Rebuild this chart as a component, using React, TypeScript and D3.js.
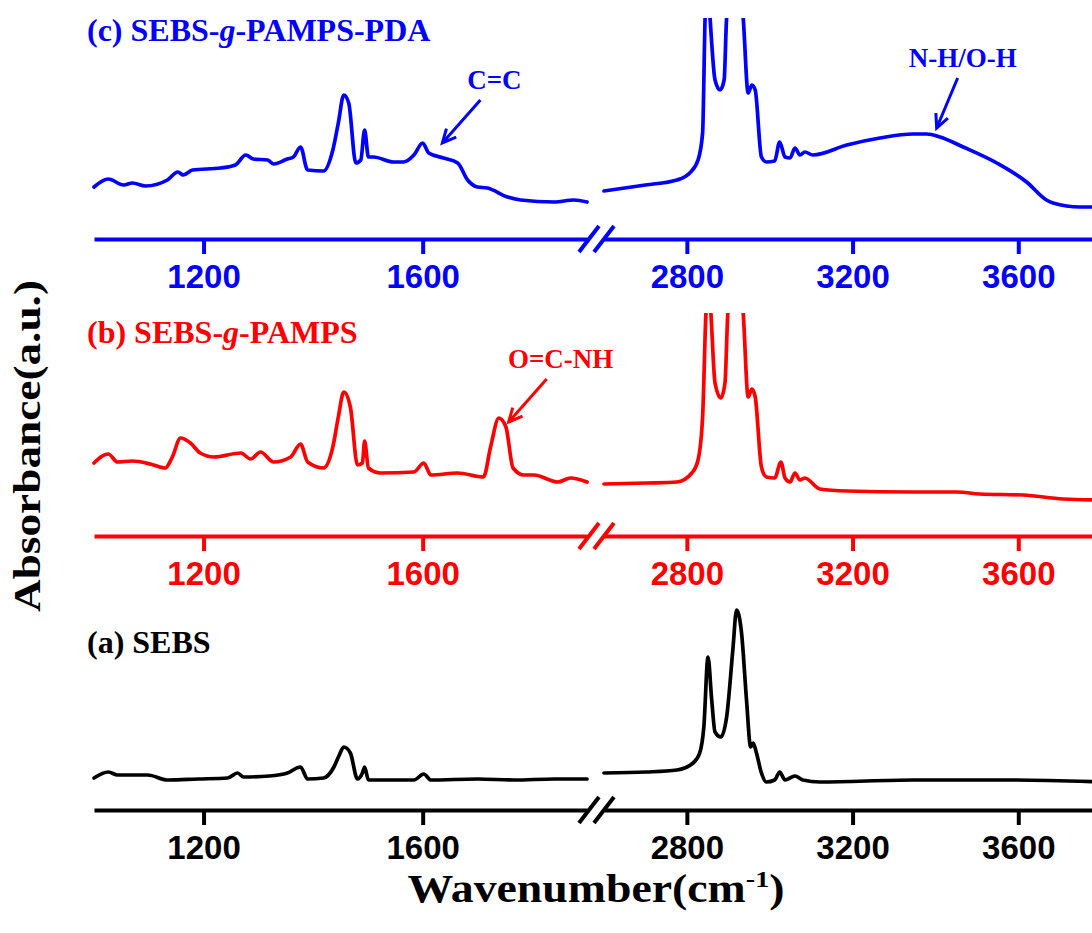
import React, { Component } from 'react';
import * as d3 from "d3";

// tick labels of the two broken x segments
const lowTicks = [1200, 1600];
const highTicks = [2800, 3200, 3600];

// (a) SEBS, absorbance in a.u. above its own baseline
const sebsWnLow = [1000, 1026, 1043, 1098, 1134, 1190, 1244, 1262, 1273, 1320, 1353, 1377, 1390, 1419, 1438, 1447, 1456, 1468, 1481, 1490, 1494, 1501, 1584, 1602, 1615, 1700, 1767, 1840, 1900];
const sebsAbsLow = [0.32, 0.38, 0.35, 0.35, 0.30, 0.31, 0.32, 0.37, 0.33, 0.34, 0.37, 0.43, 0.31, 0.32, 0.43, 0.54, 0.63, 0.57, 0.31, 0.37, 0.43, 0.30, 0.30, 0.36, 0.30, 0.31, 0.30, 0.31, 0.31];
const sebsWnHigh = [2600, 2703, 2776, 2815, 2831, 2841, 2851, 2860, 2868, 2882, 2896, 2911, 2920, 2932, 2944, 2954, 2960, 2968, 2980, 2992, 3012, 3024, 3037, 3049, 3061, 3080, 3121, 3346, 3588, 3800];
const sebsAbsHigh = [0.37, 0.38, 0.40, 0.47, 0.57, 0.83, 1.53, 1.10, 0.78, 0.73, 0.93, 1.60, 2.00, 1.77, 1.10, 0.63, 0.67, 0.57, 0.37, 0.28, 0.30, 0.38, 0.30, 0.32, 0.34, 0.30, 0.28, 0.30, 0.30, 0.28];

// (b) SEBS-g-PAMPS
const pampsWnLow = [1000, 1026, 1043, 1070, 1103, 1130, 1143, 1158, 1176, 1194, 1219, 1268, 1286, 1304, 1328, 1359, 1377, 1390, 1419, 1436, 1446, 1456, 1468, 1481, 1490, 1494, 1501, 1523, 1584, 1602, 1615, 1664, 1711, 1724, 1739, 1752, 1765, 1785, 1803, 1847, 1870, 1900];
const pampsAbsLow = [0.73, 0.82, 0.74, 0.75, 0.72, 0.68, 0.79, 0.98, 0.93, 0.83, 0.79, 0.83, 0.77, 0.84, 0.74, 0.79, 0.92, 0.74, 0.68, 0.89, 1.19, 1.44, 1.29, 0.71, 0.73, 0.95, 0.68, 0.63, 0.64, 0.73, 0.61, 0.63, 0.59, 0.89, 1.18, 1.09, 0.68, 0.61, 0.61, 0.54, 0.58, 0.54];
const pampsWnHigh = [2600, 2703, 2776, 2812, 2827, 2838, 2846, 2852, 2858, 2868, 2882, 2892, 2899, 2920, 2936, 2948, 2957, 2965, 2980, 2992, 3012, 3027, 3037, 3049, 3061, 3073, 3085, 3121, 3186, 3346, 3451, 3507, 3612, 3708, 3800];
const pampsAbsHigh = [0.52, 0.53, 0.54, 0.63, 0.76, 1.19, 2.23, 2.60, 2.23, 1.53, 1.38, 1.53, 2.23, 2.80, 2.23, 1.39, 1.47, 1.39, 0.69, 0.59, 0.58, 0.74, 0.58, 0.54, 0.63, 0.56, 0.58, 0.47, 0.45, 0.44, 0.44, 0.42, 0.41, 0.37, 0.36];

// (c) SEBS-g-PAMPS-PDA
const pdaWnLow = [1000, 1026, 1054, 1070, 1094, 1134, 1153, 1163, 1180, 1231, 1258, 1277, 1291, 1317, 1328, 1353, 1364, 1377, 1390, 1419, 1436, 1446, 1456, 1465, 1478, 1487, 1494, 1501, 1510, 1547, 1565, 1584, 1600, 1611, 1638, 1664, 1682, 1700, 1718, 1755, 1779, 1840, 1876, 1900];
const pdaAbsLow = [0.52, 0.60, 0.54, 0.56, 0.53, 0.59, 0.67, 0.64, 0.69, 0.71, 0.74, 0.84, 0.80, 0.79, 0.75, 0.80, 0.82, 0.92, 0.69, 0.68, 0.89, 1.16, 1.44, 1.36, 0.76, 0.79, 1.09, 0.82, 0.82, 0.77, 0.77, 0.84, 0.96, 0.86, 0.81, 0.76, 0.59, 0.52, 0.51, 0.42, 0.39, 0.37, 0.39, 0.37];
const pdaWnHigh = [2600, 2700, 2776, 2807, 2827, 2838, 2844, 2850, 2856, 2868, 2880, 2890, 2896, 2920, 2936, 2948, 2957, 2965, 2980, 2992, 3012, 3024, 3037, 3049, 3061, 3073, 3085, 3104, 3186, 3266, 3346, 3379, 3411, 3467, 3548, 3620, 3668, 3684, 3749, 3800];
const pdaAbsHigh = [0.48, 0.54, 0.59, 0.66, 0.79, 1.06, 2.21, 2.60, 2.21, 1.59, 1.49, 1.59, 2.21, 2.80, 2.21, 1.46, 1.54, 1.49, 0.82, 0.77, 0.78, 0.97, 0.82, 0.81, 0.91, 0.84, 0.87, 0.84, 0.94, 1.01, 1.05, 1.05, 1.02, 0.92, 0.76, 0.57, 0.39, 0.36, 0.32, 0.32];

// peak assignments: label, wavenumber and absorbance of the arrow tip, panel
const noteText = ["C=C", "O=C-NH", "N-H/O-H"];
const noteWn = [1636, 1757, 3403];
const noteAbs = [0.96, 1.14, 1.11];
const notePanel = [2, 1, 2];

const serif = "'Times New Roman', 'Liberation Serif', serif";
const sans = "Arial, 'Liberation Sans', sans-serif";

export default class App extends Component {

    chartRef = React.createRef<SVGSVGElement>();

    componentDidMount(){
        let svg = d3.select(this.chartRef.current);
        svg.selectAll("*").remove();

        let xLow = d3.scaleLinear().domain([1000, 1900]).range([94, 587]);
        let xHigh = d3.scaleLinear().domain([2600, 4000]).range([604, 1184]);

        // bottom to top: (a), (b), (c)
        let panels = [
            { name: "(a) SEBS", g: false, color: "#000000", axisY: 810, top: 560, labelY: 653,
              low: [sebsWnLow, sebsAbsLow], high: [sebsWnHigh, sebsAbsHigh] },
            { name: "(b) SEBS-", g: true, rest: "-PAMPS", color: "#ff0000", axisY: 536, top: 313, labelY: 343,
              low: [pampsWnLow, pampsAbsLow], high: [pampsWnHigh, pampsAbsHigh] },
            { name: "(c) SEBS-", g: true, rest: "-PAMPS-PDA", color: "#0000ff", axisY: 239, top: 18, labelY: 41,
              low: [pdaWnLow, pdaAbsLow], high: [pdaWnHigh, pdaAbsHigh] }
        ];

        let yScales = panels.map(p => d3.scaleLinear().domain([0, 1]).range([p.axisY, p.axisY - 100]));

        panels.forEach((p, i) => {
            let y = yScales[i];
            let g = svg.append("g");

            g.append("clipPath").attr("id", "clip" + i)
              .append("rect")
              .attr("x", 0).attr("y", p.top)
              .attr("width", 1092).attr("height", p.axisY - p.top);

            let segments = [[xLow, p.low], [xHigh, p.high]];
            segments.forEach(([x, d]: any) => {
                let pts = d[0].map((w, k) => [w, d[1][k]]);
                let line = d3.line()
                    .x(v => x(v[0]))
                    .y(v => y(v[1]))
                    .curve(d3.curveMonotoneX);
                g.append("path")
                  .attr("clip-path", "url(#clip" + i + ")")
                  .attr("d", line(pts))
                  .attr("fill", "none")
                  .attr("stroke", p.color)
                  .attr("stroke-width", 3.7)
                  .attr("stroke-linejoin", "round")
                  .attr("stroke-linecap", "round");
            });

            // two axis segments
            [[xLow, lowTicks], [xHigh, highTicks]].forEach(([x, ticks]: any) => {
                let ax = g.append("g")
                    .attr("transform", `translate(0,${p.axisY})`)
                    .attr("color", p.color)
                    .call(d3.axisBottom(x).tickValues(ticks).tickSize(15).tickSizeOuter(0).tickPadding(11).tickFormat(d3.format("d")));
                ax.select(".domain").attr("stroke-width", 4);
                ax.selectAll(".tick line").attr("stroke-width", 4);
                ax.selectAll(".tick text")
                  .attr("font-family", sans)
                  .attr("font-weight", "bold")
                  .attr("font-size", 33)
                  .attr("fill", p.color);
            });

            // axis break marks
            [589, 604].forEach(cx => {
                g.append("line")
                  .attr("x1", cx - 10).attr("y1", p.axisY + 13)
                  .attr("x2", cx + 10).attr("y2", p.axisY - 13)
                  .attr("stroke", p.color)
                  .attr("stroke-width", 4);
            });

            // series label
            let t = g.append("text")
                .attr("x", 87).attr("y", p.labelY)
                .attr("font-family", serif)
                .attr("font-weight", "bold")
                .attr("font-size", 32)
                .attr("fill", p.color);
            t.append("tspan").text(p.name);
            if (p.g) {
                t.append("tspan").attr("font-style", "italic").text("g");
                t.append("tspan").text(p.rest);
            }
        });

        // peak annotations with arrows
        noteText.forEach((txt, i) => {
            let p = panels[notePanel[i]];
            let x = noteWn[i] < 2000 ? xLow : xHigh;
            let tx = x(noteWn[i]);
            let ty = yScales[notePanel[i]](noteAbs[i]);
            let dx = noteWn[i] < 2000 ? 38 : 21;
            let sx = tx + dx, sy = ty - (noteWn[i] < 2000 ? 43 : 50);
            let ang = Math.atan2(ty - sy, tx - sx);
            let head = 15, spread = 0.45;
            svg.append("line")
              .attr("x1", sx).attr("y1", sy).attr("x2", tx).attr("y2", ty)
              .attr("stroke", p.color).attr("stroke-width", 3);
            svg.append("path")
              .attr("d", `M${tx - head * Math.cos(ang - spread)},${ty - head * Math.sin(ang - spread)}L${tx},${ty}L${tx - head * Math.cos(ang + spread)},${ty - head * Math.sin(ang + spread)}`)
              .attr("fill", "none")
              .attr("stroke", p.color).attr("stroke-width", 3)
              .attr("stroke-linejoin", "miter");
            svg.append("text")
              .attr("x", sx + (noteWn[i] < 2000 ? 14 : 5))
              .attr("y", sy - 11)
              .attr("text-anchor", "middle")
              .attr("font-family", serif)
              .attr("font-weight", "bold")
              .attr("font-size", 27)
              .attr("fill", p.color)
              .text(txt);
        });

        // axis titles
        svg.append("text")
          .attr("transform", "translate(40,446) rotate(-90)")
          .attr("text-anchor", "middle")
          .attr("font-family", serif)
          .attr("font-weight", "bold")
          .attr("font-size", 37)
          .attr("textLength", 332)
          .attr("lengthAdjust", "spacingAndGlyphs")
          .text("Absorbance(a.u.)");

        let xt = svg.append("text")
            .attr("x", 596).attr("y", 902)
            .attr("text-anchor", "middle")
            .attr("font-family", serif)
            .attr("font-weight", "bold")
            .attr("font-size", 39)
            .attr("textLength", 377)
            .attr("lengthAdjust", "spacingAndGlyphs");
        xt.append("tspan").text("Wavenumber(cm");
        xt.append("tspan").attr("font-size", 24).attr("dy", -15).text("-1");
        xt.append("tspan").attr("dy", 15).text(")");
    }

    render(){
        return (
            <div style={{ position: "absolute", left: 0, top: 0 }}>
                <svg width={1092} height={933} ref={this.chartRef} style={{ display: "block", background: "#fff" }}></svg>
            </div>
        );
    }
}
